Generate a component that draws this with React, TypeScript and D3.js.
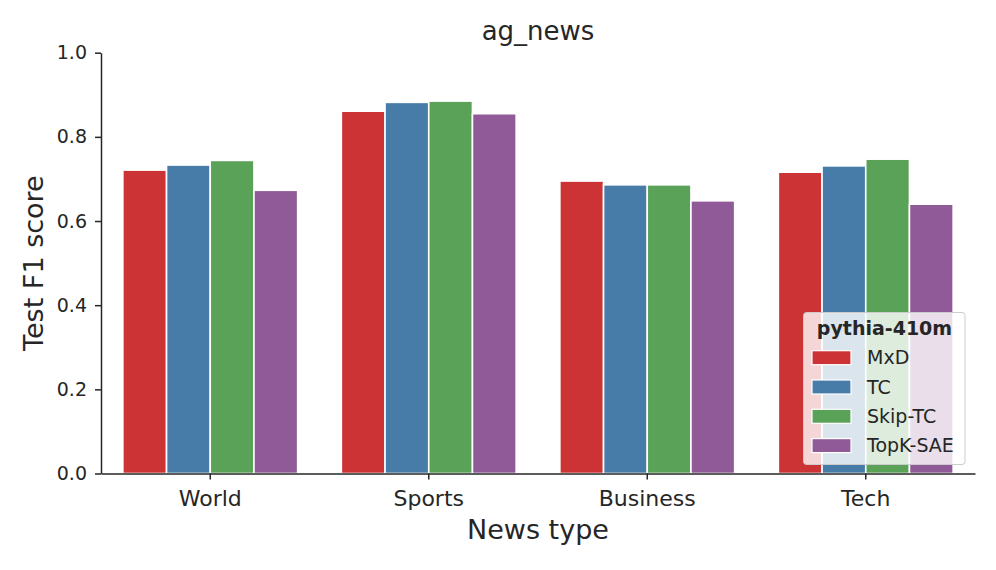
import React, { useEffect, useRef } from "react";
import * as d3 from "d3";

const categories = ["World", "Sports", "Business", "Tech"];
const seriesNames = ["MxD", "TC", "Skip-TC", "TopK-SAE"];
const mxdValues = [0.721, 0.861, 0.695, 0.716];
const tcValues = [0.733, 0.882, 0.686, 0.731];
const skipTcValues = [0.744, 0.885, 0.686, 0.747];
const topkSaeValues = [0.673, 0.855, 0.648, 0.64];
const yTicks = [0, 0.2, 0.4, 0.6, 0.8, 1.0];
const colors = ["#cb3334", "#477ca8", "#59a257", "#905998"];

const FONT = "'DejaVu Sans', sans-serif";
const INK = "#262626";

export default function App() {
  const svgRef = useRef<SVGSVGElement | null>(null);

  useEffect(() => {
    const width = 996;
    const height = 570;
    const left = 101;
    const right = 975;
    const top = 52.7;
    const bottom = 473.5;

    const allSeries = [mxdValues, tcValues, skipTcValues, topkSaeValues];
    const rows = seriesNames.map((name, i) => ({
      name,
      color: colors[i],
      values: allSeries[i],
    }));

    const svg = d3.select(svgRef.current);
    svg.selectAll("*").remove();
    svg.attr("width", width).attr("height", height);

    // шкалы
    const x = d3
      .scaleBand<string>()
      .domain(categories)
      .range([left, right])
      .paddingInner(0.2)
      .paddingOuter(0.1);
    const xInner = d3
      .scaleBand<string>()
      .domain(seriesNames)
      .range([0, x.bandwidth()]);
    const y = d3.scaleLinear().domain([0, 1]).range([bottom, top]);

    // столбики
    rows.forEach((s) => {
      svg
        .append("g")
        .selectAll("rect")
        .data(categories)
        .enter()
        .append("rect")
        .attr("x", (c) => (x(c) as number) + (xInner(s.name) as number))
        .attr("y", (c, i) => y(s.values[i]))
        .attr("width", xInner.bandwidth())
        .attr("height", (c, i) => bottom - y(s.values[i]))
        .attr("fill", s.color)
        .attr("stroke", "#ffffff")
        .attr("stroke-width", 1.6);
    });

    // ось X
    const xAxis = svg
      .append("g")
      .attr("transform", `translate(0,${bottom})`)
      .call(d3.axisBottom(x).tickSize(6).tickSizeOuter(0).tickPadding(10.5));
    xAxis.select(".domain").attr("stroke", INK).attr("stroke-width", 1.5);
    xAxis.selectAll(".tick line").attr("stroke", INK).attr("stroke-width", 1.5);
    xAxis
      .selectAll(".tick text")
      .attr("fill", INK)
      .style("font-family", FONT)
      .style("font-size", "22px");

    // ось Y
    const yAxis = svg
      .append("g")
      .attr("transform", `translate(${left},0)`)
      .call(
        d3
          .axisLeft(y)
          .tickValues(yTicks)
          .tickFormat(d3.format(".1f"))
          .tickSize(6)
          .tickSizeOuter(0)
          .tickPadding(8)
      );
    yAxis.select(".domain").attr("stroke", INK).attr("stroke-width", 1.5);
    yAxis.selectAll(".tick line").attr("stroke", INK).attr("stroke-width", 1.5);
    yAxis
      .selectAll(".tick text")
      .attr("fill", INK)
      .style("font-family", FONT)
      .style("font-size", "19px");

    // подписи
    svg
      .append("text")
      .attr("x", (left + right) / 2)
      .attr("y", 39.5)
      .attr("text-anchor", "middle")
      .attr("fill", INK)
      .style("font-family", FONT)
      .style("font-size", "26px")
      .text("ag_news");

    svg
      .append("text")
      .attr("x", (left + right) / 2)
      .attr("y", 539)
      .attr("text-anchor", "middle")
      .attr("fill", INK)
      .style("font-family", FONT)
      .style("font-size", "27px")
      .text("News type");

    svg
      .append("text")
      .attr("transform", `translate(43,${(top + bottom) / 2}) rotate(-90)`)
      .attr("text-anchor", "middle")
      .attr("fill", INK)
      .style("font-family", FONT)
      .style("font-size", "27px")
      .text("Test F1 score");

    // легенда
    const lg = svg.append("g");
    lg.append("rect")
      .attr("x", 803.5)
      .attr("y", 312.5)
      .attr("width", 161.5)
      .attr("height", 152)
      .attr("rx", 3)
      .attr("fill", "#ffffff")
      .attr("fill-opacity", 0.8)
      .attr("stroke", "#cccccc")
      .attr("stroke-width", 1);
    lg.append("text")
      .attr("x", 884.5)
      .attr("y", 335)
      .attr("text-anchor", "middle")
      .attr("fill", INK)
      .style("font-family", FONT)
      .style("font-size", "19px")
      .style("font-weight", "bold")
      .text("pythia-410m");

    const item = lg
      .selectAll("g.item")
      .data(rows)
      .enter()
      .append("g")
      .attr("class", "item")
      .attr("transform", (d, i) => `translate(0,${357.7 + i * 29.3})`);
    item
      .append("rect")
      .attr("x", 812)
      .attr("y", -7)
      .attr("width", 39)
      .attr("height", 14)
      .attr("fill", (d) => d.color)
      .attr("stroke", "#ffffff")
      .attr("stroke-width", 1.2);
    item
      .append("text")
      .attr("x", 867)
      .attr("y", 0)
      .attr("dy", "0.35em")
      .attr("fill", INK)
      .style("font-family", FONT)
      .style("font-size", "19px")
      .text((d) => d.name);
  }, []);

  return (
    <svg
      ref={svgRef}
      style={{ position: "absolute", left: 0, top: 0, background: "#ffffff" }}
    />
  );
}
